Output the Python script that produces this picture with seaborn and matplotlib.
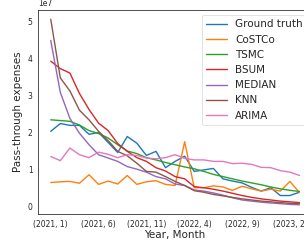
import matplotlib
matplotlib.use("Agg")
import matplotlib.pyplot as plt
import seaborn as sns
import pandas as pd
import numpy as np

months = [(2021, m) for m in range(1, 13)] + [(2022, m) for m in range(1, 13)] + [(2023, m) for m in range(1, 4)]

ground_truth = [2.03, 2.24, 2.19, 2.19, 1.95, 2.0, 1.73, 1.46, 1.89, 1.71, 1.38, 1.49, 1.05, 1.22, 1.36,
                0.95, 0.99, 1.03, 0.75, 0.69, 0.64, 0.52, 0.42, 0.51, 0.30, 0.30, 0.39]
costco = [0.65, 0.67, 0.68, 0.63, 0.86, 0.6, 0.69, 0.61, 0.84, 0.6, 0.67, 0.7, 0.6, 0.57, 1.75,
          0.51, 0.51, 0.56, 0.53, 0.44, 0.55, 0.48, 0.42, 0.47, 0.42, 0.68, 0.38]
tsmc = [2.34, 2.32, 2.3, 2.2, 2.05, 1.97, 1.85, 1.67, 1.5, 1.43, 1.32, 1.26, 1.19, 1.13, 1.07,
        1.02, 0.95, 0.87, 0.81, 0.75, 0.69, 0.64, 0.59, 0.53, 0.48, 0.44, 0.41]
bsum = [3.92, 3.72, 3.6, 3.05, 2.62, 2.25, 2.05, 1.7, 1.49, 1.32, 1.22, 1.05, 0.96, 0.81, 0.75,
        0.54, 0.51, 0.47, 0.42, 0.36, 0.3, 0.25, 0.21, 0.18, 0.15, 0.13, 0.11]
median = [4.48, 3.08, 2.38, 1.98, 1.67, 1.4, 1.31, 1.22, 1.08, 1.01, 0.93, 0.81, 0.75, 0.61, 0.57,
          0.45, 0.42, 0.37, 0.31, 0.24, 0.18, 0.15, 0.12, 0.10, 0.08, 0.06, 0.05]
knn = [5.05, 3.47, 3.12, 2.6, 2.34, 2.03, 1.78, 1.49, 1.37, 1.17, 0.95, 0.93, 0.81, 0.68, 0.57,
       0.43, 0.39, 0.33, 0.29, 0.25, 0.21, 0.18, 0.15, 0.13, 0.11, 0.09, 0.08]
arima = [1.35, 1.24, 1.58, 1.4, 1.32, 1.47, 1.41, 1.32, 1.4, 1.38, 1.31, 1.29, 1.32, 1.4, 1.3,
         1.26, 1.26, 1.22, 1.22, 1.16, 1.17, 1.14, 1.06, 1.05, 0.97, 0.93, 0.84]

series = {"Ground truth": ground_truth, "CoSTCo": costco, "TSMC": tsmc, "BSUM": bsum,
          "MEDIAN": median, "KNN": knn, "ARIMA": arima}
scale = 1e7

rows = []
for name, vals in series.items():
    for i, v in enumerate(vals):
        rows.append({"idx": i, "value": v * scale, "method": name})
df = pd.DataFrame(rows)

tick_pos = list(range(0, len(months), 5))
tick_labels = [f"({months[i][0]}, {months[i][1]})" for i in tick_pos]

sns.set_style("white")
plt.rcParams['font.family'] = ['DejaVu Sans']
fig = plt.figure(figsize=(3.04, 2.43), dpi=100)
ax = fig.add_axes([0.126, 0.119, 0.9, 0.84])
sns.lineplot(data=df, x="idx", y="value", hue="method", hue_order=list(series.keys()),
             palette="tab10", linewidth=1.0, ax=ax)
ax.set_xticks(tick_pos)
ax.set_xticklabels(tick_labels)
ax.tick_params(axis='both', labelsize=5.5, length=2.2, width=0.5, pad=2)
ax.yaxis.get_offset_text().set_fontsize(5.5)
ax.set_xlabel("Year, Month", fontsize=7.5, labelpad=1)
ax.set_ylabel("Pass-through expenses", fontsize=7.5, labelpad=3)
for s in ax.spines.values():
    s.set_linewidth(0.6)
    s.set_color("#333333")
leg = ax.legend(loc="upper right", fontsize=7.5, frameon=True)
leg.get_frame().set_linewidth(0.5)
fig.savefig("out.png", dpi=100)
